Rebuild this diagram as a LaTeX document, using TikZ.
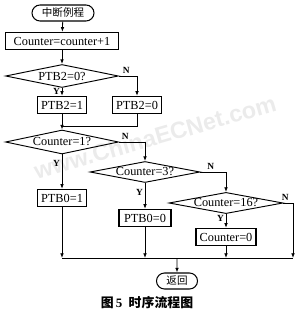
\documentclass[tikz,border=0pt]{standalone}
\usepackage{fontspec}
\setmainfont{Liberation Serif}
\setsansfont{Liberation Sans}
\newfontfamily\cjk{Noto Sans CJK SC}
\usetikzlibrary{arrows.meta,positioning,shapes.geometric,shapes.misc}
\tikzset{
  >={Latex[length=1.4mm,width=1.1mm]},
  % 流程图
  term/.style={rounded rectangle,draw,line width=0.9pt,inner sep=0pt,
               minimum height=0.48cm,font=\cjk\small},
  proc/.style={rectangle,draw,line width=0.9pt,inner sep=0pt,
               minimum height=0.52cm,font=\normalfont\fontsize{10.5}{12}\selectfont},
  dec/.style={diamond,draw,line width=0.8pt,inner sep=0pt,aspect=5,
              font=\normalfont\fontsize{10.5}{12}\selectfont},
  fl/.style={->,line width=0.7pt},
  jn/.style={line width=0.7pt},
  yn/.style={font=\fontsize{8}{10}\selectfont\bfseries,inner sep=1.5pt},
  wmark/.style={font=\sffamily\bfseries\fontsize{20}{20}\selectfont,
                text=black!8,rotate=16},
}
\begin{document}
\begin{tikzpicture}[x=0.03cm,y=-0.03cm]
\useasboundingbox (0,0) rectangle (300,316);
  \node[wmark] (wm) at (155,137) {www.ChinaECNet.com};
  \node[term,minimum width=1.86cm] (start) at (63,13) {中断例程};
  \node[proc,minimum width=3.39cm] (inc) at (62,41) {Counter=counter+1};
  \node[dec,minimum width=3.39cm,minimum height=0.69cm] (d1) at (62,76) {PTB2=0?};
  \node[proc,minimum width=1.47cm] (p21) at (62,105) {PTB2=1};
  \node[proc,minimum width=1.47cm] (p20) at (137,105) {PTB2=0};
  \node[dec,minimum width=3.39cm,minimum height=0.72cm] (d2) at (62,142) {Counter=1?};
  \node[dec,minimum width=3.3cm,minimum height=0.63cm] (d3) at (145,172) {Counter=3?};
  \node[dec,minimum width=3.42cm,minimum height=0.63cm] (d4) at (226,203) {Counter=16?};
  \node[proc,minimum width=1.47cm] (p01) at (62,198) {PTB0=1};
  \node[proc,minimum width=1.56cm] (p00) at (145,218) {PTB0=0};
  \node[proc,minimum width=1.8cm] (c0) at (226,237) {Counter=0};
  \node[term,minimum width=1.23cm] (ret) at (177,281) {返回};
  \node[font=\fontsize{11}{13}\selectfont\bfseries] (cap) at (147,303)
    {{\cjk 图}\,5\enspace{\cjk 时序流程图}};
  \coordinate (j1) at (62,126);
  \coordinate (m1) at (62,258);
  \coordinate (m2) at (145,258);
  \coordinate (m3) at (226,258);
  \coordinate (m4) at (293,258);
  \coordinate (mc) at (177,258);
  \draw[fl] (start) -- (inc);
  \draw[fl] (inc) -- (d1);
  \draw[fl] (d1) -- node[yn,left,pos=0.4] {Y} (p21);
  \draw[fl] (d1.east) -| node[yn,above,pos=0.2] {N} (p20);
  \draw[jn] (p20.south) |- (j1);
  \draw[fl] (p21) -- (d2);
  \draw[fl] (d2) -- node[yn,left,pos=0.25] {Y} (p01);
  \draw[fl] (d2.east) -| node[yn,above,pos=0.12] {N} (d3);
  \draw[fl] (d3) -- node[yn,left,pos=0.35] {Y} (p00);
  \draw[fl] (d3.east) -| node[yn,above,pos=0.2] {N} (d4);
  \draw[fl] (d4) -- node[yn,left,pos=0.3] {Y} (c0);
  \draw[fl] (d4.east) -| node[yn,above,pos=0.1] {N} (m4);
  \draw[fl] (p01) -- (m1);
  \draw[fl] (p00) -- (m2);
  \draw[fl] (c0) -- (m3);
  \draw[jn] (m1) -- (m4);
  \draw[fl] (mc) -- (ret);
\end{tikzpicture}
\end{document}
